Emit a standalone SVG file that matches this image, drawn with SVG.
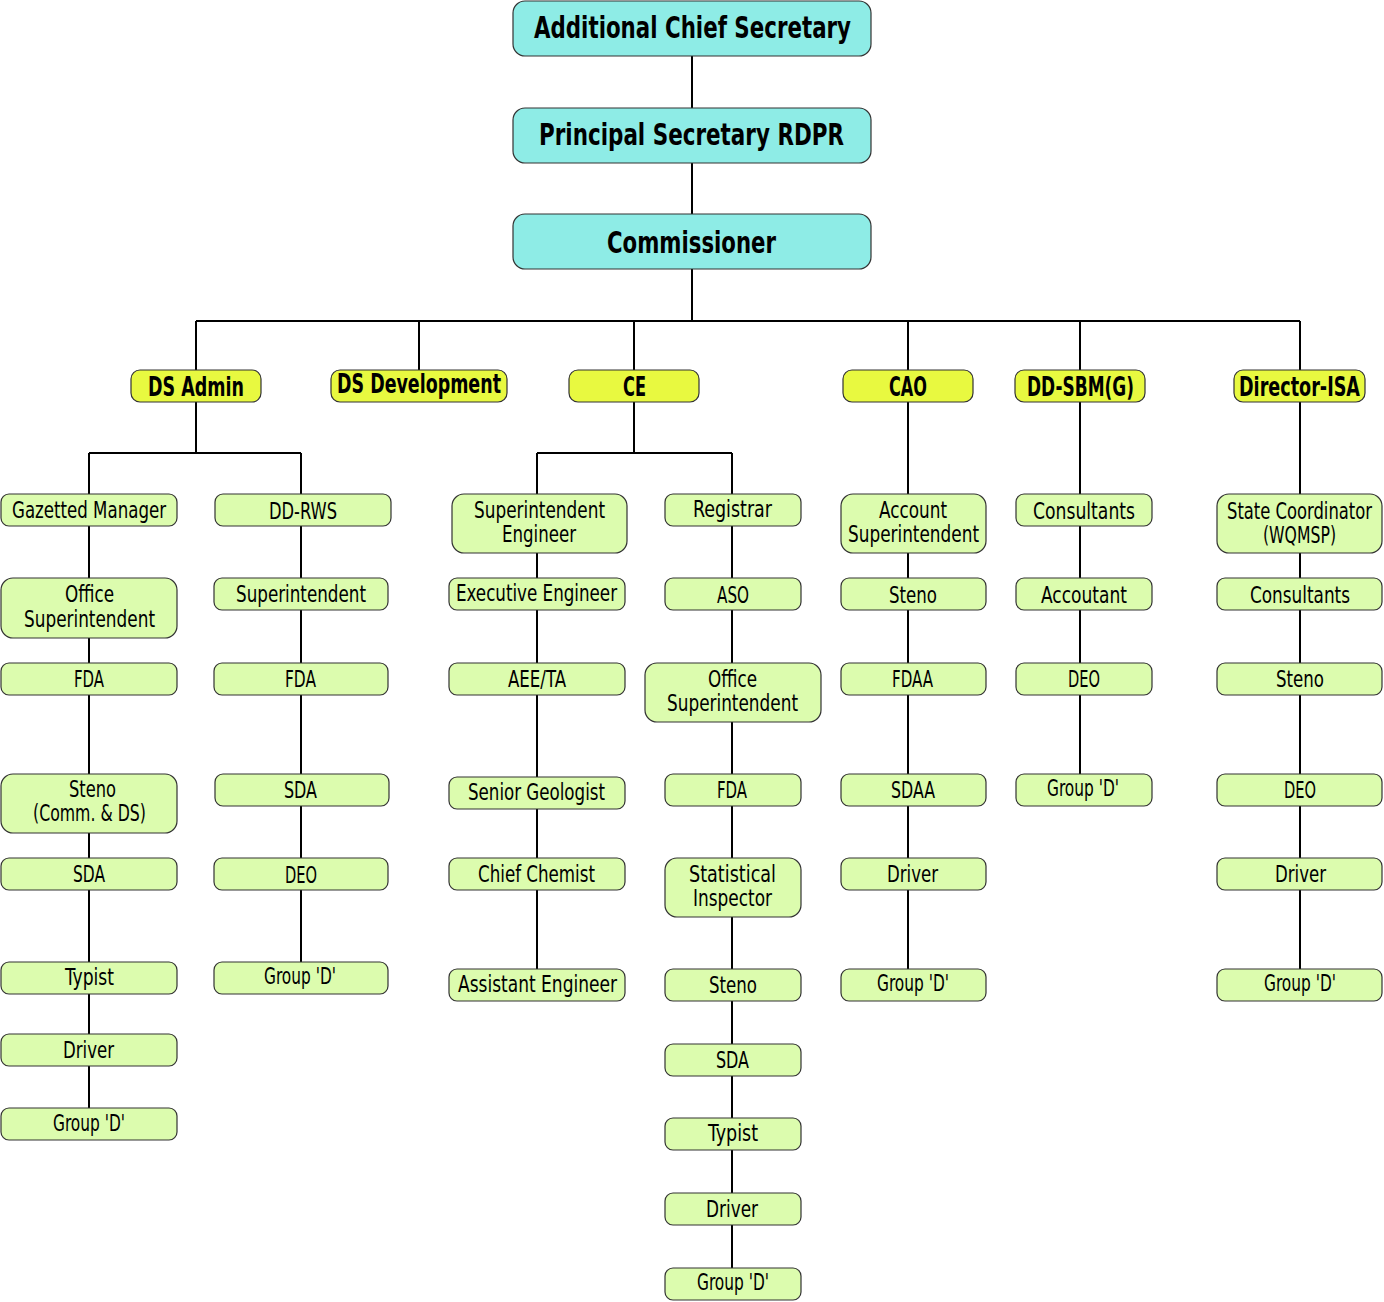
<svg xmlns="http://www.w3.org/2000/svg" width="1384" height="1302" viewBox="0 0 1384 1302">
<style>
.c{fill:#8EECE6;stroke:#333;stroke-width:1.2}
.y{fill:#E8F940;stroke:#333;stroke-width:1.2}
.g{fill:#DCFCAE;stroke:#333;stroke-width:1.2}
text{font-family:"Liberation Sans Narrow","DejaVu Sans Condensed","DejaVu Sans",sans-serif;text-anchor:middle;fill:#000}
.t1{font-size:30px;font-weight:bold}
.t2{font-size:26px;font-weight:bold}
.t3{font-size:23px}
.ln{stroke:#000;stroke-width:2;fill:none}
</style>
<rect width="1384" height="1302" fill="#fff"/>
<g id="connectors" class="ln">
<path d="M692 56V108M692 163V214M692 269V321"/>
<path d="M196 321H1300"/>
<path d="M196 321V370M419 321V370M634 321V370M908 321V370M1080 321V370M1300 321V370"/>
<path d="M196 402V453M89 453H301M89 453V1108M301 453V962"/>
<path d="M634 402V453M537 453H732M537 453V969M732 453V1268"/>
<path d="M908 402V969M1080 402V774M1300 402V969"/>
</g>
<g id="acs"><rect class="c" x="513" y="1" width="358" height="55" rx="12"/><text class="t1" x="692.5" y="38" textLength="317" lengthAdjust="spacingAndGlyphs">Additional Chief Secretary</text></g>
<g id="ps"><rect class="c" x="513" y="108" width="358" height="55" rx="12"/><text class="t1" x="691.5" y="145" textLength="305" lengthAdjust="spacingAndGlyphs">Principal Secretary RDPR</text></g>
<g id="comm"><rect class="c" x="513" y="214" width="358" height="55" rx="12"/><text class="t1" x="691.5" y="253" textLength="169" lengthAdjust="spacingAndGlyphs">Commissioner</text></g>

<g id="dsadmin"><rect class="y" x="131" y="370" width="130" height="32" rx="9"/><text class="t2" x="196" y="396" textLength="96" lengthAdjust="spacingAndGlyphs">DS Admin</text></g>
<g id="dsdev"><rect class="y" x="331" y="370" width="176" height="32" rx="9"/><text class="t2" x="419" y="393" textLength="164" lengthAdjust="spacingAndGlyphs">DS Development</text></g>
<g id="ce"><rect class="y" x="569" y="370" width="130" height="32" rx="9"/><text class="t2" x="634.5" y="396" textLength="23" lengthAdjust="spacingAndGlyphs">CE</text></g>
<g id="cao"><rect class="y" x="843" y="370" width="130" height="32" rx="9"/><text class="t2" x="908" y="396" textLength="38" lengthAdjust="spacingAndGlyphs">CAO</text></g>
<g id="ddsbm"><rect class="y" x="1015" y="370" width="130" height="32" rx="9"/><text class="t2" x="1080.5" y="396" textLength="107" lengthAdjust="spacingAndGlyphs">DD-SBM(G)</text></g>
<g id="disa"><rect class="y" x="1234" y="370" width="131" height="32" rx="9"/><text class="t2" x="1299.5" y="396" textLength="121" lengthAdjust="spacingAndGlyphs">Director-ISA</text></g>

<g id="a1"><rect class="g" x="1" y="494" width="176" height="32" rx="8"/><text class="t3" x="89" y="518" textLength="154" lengthAdjust="spacingAndGlyphs">Gazetted Manager</text></g>
<g id="a2"><rect class="g" x="1" y="578" width="176" height="60" rx="12"/><text class="t3" x="89.5" y="602" textLength="49" lengthAdjust="spacingAndGlyphs">Office</text><text class="t3" x="89.5" y="627" textLength="131" lengthAdjust="spacingAndGlyphs">Superintendent</text></g>
<g id="a3"><rect class="g" x="1" y="663" width="176" height="32" rx="8"/><text class="t3" x="89" y="687" textLength="30" lengthAdjust="spacingAndGlyphs">FDA</text></g>
<g id="a4"><rect class="g" x="1" y="774" width="176" height="59" rx="12"/><text class="t3" x="92.5" y="797" textLength="47" lengthAdjust="spacingAndGlyphs">Steno</text><text class="t3" x="89.5" y="821" textLength="113" lengthAdjust="spacingAndGlyphs">(Comm. &amp; DS)</text></g>
<g id="a5"><rect class="g" x="1" y="858" width="176" height="32" rx="8"/><text class="t3" x="89" y="882" textLength="32" lengthAdjust="spacingAndGlyphs">SDA</text></g>
<g id="a6"><rect class="g" x="1" y="962" width="176" height="32" rx="8"/><text class="t3" x="89.5" y="985" textLength="49" lengthAdjust="spacingAndGlyphs">Typist</text></g>
<g id="a7"><rect class="g" x="1" y="1034" width="176" height="32" rx="8"/><text class="t3" x="88.5" y="1058" textLength="51" lengthAdjust="spacingAndGlyphs">Driver</text></g>
<g id="a8"><rect class="g" x="1" y="1108" width="176" height="32" rx="8"/><text class="t3" x="89" y="1131" textLength="72" lengthAdjust="spacingAndGlyphs">Group 'D'</text></g>

<g id="b1"><rect class="g" x="215" y="494" width="176" height="32" rx="8"/><text class="t3" x="303" y="519" textLength="68" lengthAdjust="spacingAndGlyphs">DD-RWS</text></g>
<g id="b2"><rect class="g" x="214" y="578" width="174" height="32" rx="8"/><text class="t3" x="301" y="602" textLength="130" lengthAdjust="spacingAndGlyphs">Superintendent</text></g>
<g id="b3"><rect class="g" x="214" y="663" width="174" height="32" rx="8"/><text class="t3" x="300.5" y="687" textLength="31" lengthAdjust="spacingAndGlyphs">FDA</text></g>
<g id="b4"><rect class="g" x="215" y="774" width="174" height="32" rx="8"/><text class="t3" x="300.5" y="798" textLength="33" lengthAdjust="spacingAndGlyphs">SDA</text></g>
<g id="b5"><rect class="g" x="214" y="858" width="174" height="32" rx="8"/><text class="t3" x="301" y="883" textLength="32" lengthAdjust="spacingAndGlyphs">DEO</text></g>
<g id="b6"><rect class="g" x="214" y="962" width="174" height="32" rx="8"/><text class="t3" x="300" y="984" textLength="72" lengthAdjust="spacingAndGlyphs">Group 'D'</text></g>

<g id="c1"><rect class="g" x="452" y="494" width="175" height="59" rx="12"/><text class="t3" x="539.5" y="518" textLength="131" lengthAdjust="spacingAndGlyphs">Superintendent</text><text class="t3" x="539" y="542" textLength="74" lengthAdjust="spacingAndGlyphs">Engineer</text></g>
<g id="c2"><rect class="g" x="449" y="578" width="176" height="32" rx="8"/><text class="t3" x="536.5" y="601" textLength="161" lengthAdjust="spacingAndGlyphs">Executive Engineer</text></g>
<g id="c3"><rect class="g" x="449" y="663" width="176" height="32" rx="8"/><text class="t3" x="537" y="687" textLength="58" lengthAdjust="spacingAndGlyphs">AEE/TA</text></g>
<g id="c4"><rect class="g" x="449" y="777" width="176" height="32" rx="8"/><text class="t3" x="536.5" y="800" textLength="137" lengthAdjust="spacingAndGlyphs">Senior Geologist</text></g>
<g id="c5"><rect class="g" x="449" y="858" width="176" height="32" rx="8"/><text class="t3" x="536.5" y="882" textLength="117" lengthAdjust="spacingAndGlyphs">Chief Chemist</text></g>
<g id="c6"><rect class="g" x="449" y="969" width="176" height="32" rx="8"/><text class="t3" x="537.5" y="992" textLength="159" lengthAdjust="spacingAndGlyphs">Assistant Engineer</text></g>

<g id="d1"><rect class="g" x="665" y="494" width="136" height="32" rx="8"/><text class="t3" x="732.5" y="517" textLength="79" lengthAdjust="spacingAndGlyphs">Registrar</text></g>
<g id="d2"><rect class="g" x="665" y="578" width="136" height="32" rx="8"/><text class="t3" x="733" y="603" textLength="32" lengthAdjust="spacingAndGlyphs">ASO</text></g>
<g id="d3"><rect class="g" x="645" y="663" width="176" height="59" rx="12"/><text class="t3" x="732.5" y="687" textLength="49" lengthAdjust="spacingAndGlyphs">Office</text><text class="t3" x="732.5" y="711" textLength="131" lengthAdjust="spacingAndGlyphs">Superintendent</text></g>
<g id="d4"><rect class="g" x="665" y="774" width="136" height="32" rx="8"/><text class="t3" x="732" y="798" textLength="30" lengthAdjust="spacingAndGlyphs">FDA</text></g>
<g id="d5"><rect class="g" x="665" y="858" width="136" height="59" rx="12"/><text class="t3" x="732.5" y="882" textLength="87" lengthAdjust="spacingAndGlyphs">Statistical</text><text class="t3" x="732.5" y="906" textLength="79" lengthAdjust="spacingAndGlyphs">Inspector</text></g>
<g id="d6"><rect class="g" x="665" y="969" width="136" height="32" rx="8"/><text class="t3" x="733" y="993" textLength="48" lengthAdjust="spacingAndGlyphs">Steno</text></g>
<g id="d7"><rect class="g" x="665" y="1044" width="136" height="32" rx="8"/><text class="t3" x="732.5" y="1068" textLength="33" lengthAdjust="spacingAndGlyphs">SDA</text></g>
<g id="d8"><rect class="g" x="665" y="1118" width="136" height="32" rx="8"/><text class="t3" x="733" y="1141" textLength="50" lengthAdjust="spacingAndGlyphs">Typist</text></g>
<g id="d9"><rect class="g" x="665" y="1193" width="136" height="32" rx="8"/><text class="t3" x="732" y="1217" textLength="52" lengthAdjust="spacingAndGlyphs">Driver</text></g>
<g id="d10"><rect class="g" x="665" y="1268" width="136" height="32" rx="8"/><text class="t3" x="733" y="1290" textLength="72" lengthAdjust="spacingAndGlyphs">Group 'D'</text></g>

<g id="e1"><rect class="g" x="841" y="494" width="145" height="59" rx="12"/><text class="t3" x="913" y="518" textLength="68" lengthAdjust="spacingAndGlyphs">Account</text><text class="t3" x="913.5" y="542" textLength="131" lengthAdjust="spacingAndGlyphs">Superintendent</text></g>
<g id="e2"><rect class="g" x="841" y="578" width="145" height="32" rx="8"/><text class="t3" x="913" y="603" textLength="48" lengthAdjust="spacingAndGlyphs">Steno</text></g>
<g id="e3"><rect class="g" x="841" y="663" width="145" height="32" rx="8"/><text class="t3" x="912.5" y="687" textLength="41" lengthAdjust="spacingAndGlyphs">FDAA</text></g>
<g id="e4"><rect class="g" x="841" y="774" width="145" height="32" rx="8"/><text class="t3" x="913" y="798" textLength="44" lengthAdjust="spacingAndGlyphs">SDAA</text></g>
<g id="e5"><rect class="g" x="841" y="858" width="145" height="32" rx="8"/><text class="t3" x="912.5" y="882" textLength="51" lengthAdjust="spacingAndGlyphs">Driver</text></g>
<g id="e6"><rect class="g" x="841" y="969" width="145" height="32" rx="8"/><text class="t3" x="913" y="991" textLength="72" lengthAdjust="spacingAndGlyphs">Group 'D'</text></g>

<g id="f1"><rect class="g" x="1016" y="494" width="136" height="32" rx="8"/><text class="t3" x="1084" y="519" textLength="102" lengthAdjust="spacingAndGlyphs">Consultants</text></g>
<g id="f2"><rect class="g" x="1016" y="578" width="136" height="32" rx="8"/><text class="t3" x="1084" y="603" textLength="86" lengthAdjust="spacingAndGlyphs">Accoutant</text></g>
<g id="f3"><rect class="g" x="1016" y="663" width="136" height="32" rx="8"/><text class="t3" x="1084" y="687" textLength="32" lengthAdjust="spacingAndGlyphs">DEO</text></g>
<g id="f4"><rect class="g" x="1016" y="774" width="136" height="32" rx="8"/><text class="t3" x="1083" y="796" textLength="72" lengthAdjust="spacingAndGlyphs">Group 'D'</text></g>

<g id="g1"><rect class="g" x="1217" y="494" width="165" height="59" rx="12"/><text class="t3" x="1299.5" y="519" textLength="145" lengthAdjust="spacingAndGlyphs">State Coordinator</text><text class="t3" x="1299.5" y="543" textLength="73" lengthAdjust="spacingAndGlyphs">(WQMSP)</text></g>
<g id="g2"><rect class="g" x="1217" y="578" width="165" height="32" rx="8"/><text class="t3" x="1300" y="603" textLength="100" lengthAdjust="spacingAndGlyphs">Consultants</text></g>
<g id="g3"><rect class="g" x="1217" y="663" width="165" height="32" rx="8"/><text class="t3" x="1300" y="687" textLength="48" lengthAdjust="spacingAndGlyphs">Steno</text></g>
<g id="g4"><rect class="g" x="1217" y="774" width="165" height="32" rx="8"/><text class="t3" x="1300" y="798" textLength="32" lengthAdjust="spacingAndGlyphs">DEO</text></g>
<g id="g5"><rect class="g" x="1217" y="858" width="165" height="32" rx="8"/><text class="t3" x="1300.5" y="882" textLength="51" lengthAdjust="spacingAndGlyphs">Driver</text></g>
<g id="g6"><rect class="g" x="1217" y="969" width="165" height="32" rx="8"/><text class="t3" x="1300" y="991" textLength="72" lengthAdjust="spacingAndGlyphs">Group 'D'</text></g>
</svg>
